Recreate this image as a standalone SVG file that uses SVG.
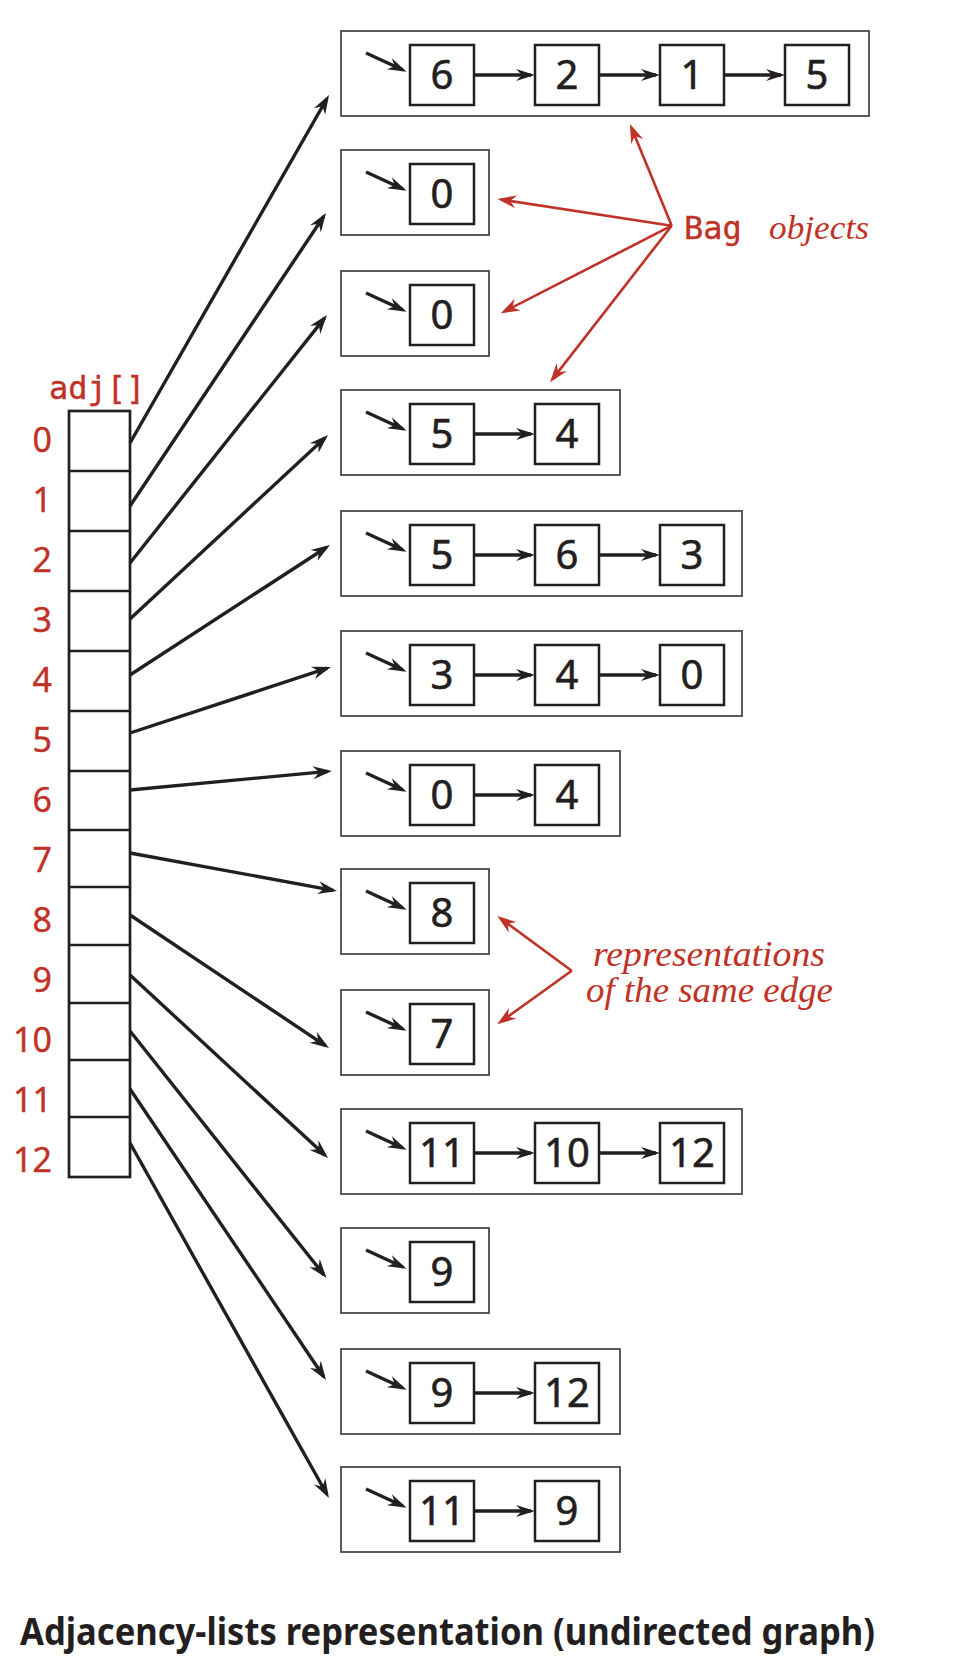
<svg xmlns="http://www.w3.org/2000/svg" width="965" height="1660" viewBox="0 0 965 1660">
<style>
.bag{fill:none;stroke:#4a4a4a;stroke-width:1.8}
.nd{fill:#fff;stroke:#231f20;stroke-width:2.5}
.num{font-family:"Noto Sans","Open Sans",sans-serif;font-size:40px;fill:#231f20;stroke:#231f20;stroke-width:0.6;text-anchor:middle}
.ptr{stroke:#231f20;stroke-width:3.4;fill:none;marker-end:url(#ahs)}
.lnk{stroke:#231f20;stroke-width:3.4;fill:none;marker-end:url(#ahs)}
.con{stroke:#231f20;stroke-width:3.4;fill:none;marker-end:url(#ah)}
.red{stroke:#c03227;stroke-width:2.6;fill:none;marker-end:url(#ahr)}
.arr{fill:#fff;stroke:#231f20;stroke-width:2.7}
.idx{font-family:"Noto Sans","Open Sans",sans-serif;font-size:34px;fill:#c03227;stroke:#c03227;stroke-width:0.4;text-anchor:end}
.mono{font-family:"DejaVu Sans Mono","Liberation Mono",monospace;font-size:32px;fill:#c03227;stroke:#c03227;stroke-width:0.4}
.ital{font-family:"Liberation Serif",serif;font-style:italic;fill:#c03227}
</style>
<defs>
<marker id="ah" viewBox="-20 -7 21 14" markerWidth="21" markerHeight="14" refX="-4" refY="0" orient="auto" markerUnits="userSpaceOnUse">
<path d="M0,0 L-19,-6.5 L-13,0 L-19,6.5 Z" fill="#231f20"/>
</marker>
<marker id="ahs" viewBox="-20 -7 21 14" markerWidth="21" markerHeight="14" refX="-4" refY="0" orient="auto" markerUnits="userSpaceOnUse">
<path d="M0,0 L-19,-6 L-13,0 L-19,6 Z" fill="#231f20"/>
</marker>
<marker id="ahr" viewBox="-20 -7 21 14" markerWidth="21" markerHeight="14" refX="-4" refY="0" orient="auto" markerUnits="userSpaceOnUse">
<path d="M0,0 L-19,-6.5 L-13,0 L-19,6.5 Z" fill="#c03227"/>
</marker>
</defs>
<rect width="965" height="1660" fill="#fff"/>

<g id="adj">
<text class="mono" x="49" y="399">adj[]</text>
<rect class="arr" x="69" y="411" width="61" height="766"/>
<path d="M69,471H130M69,531H130M69,591H130M69,651H130M69,711H130M69,771H130M69,830H130M69,887H130M69,945H130M69,1003H130M69,1060H130M69,1117H130" stroke="#231f20" stroke-width="2.7" fill="none"/>
<text class="idx" x="52" y="452">0</text>
<text class="idx" x="52" y="512">1</text>
<text class="idx" x="52" y="572">2</text>
<text class="idx" x="52" y="632">3</text>
<text class="idx" x="52" y="692">4</text>
<text class="idx" x="52" y="752">5</text>
<text class="idx" x="52" y="812">6</text>
<text class="idx" x="52" y="872">7</text>
<text class="idx" x="52" y="932">8</text>
<text class="idx" x="52" y="992">9</text>
<text class="idx" x="52" y="1052">10</text>
<text class="idx" x="52" y="1112">11</text>
<text class="idx" x="52" y="1172">12</text>
</g>

<g id="bag0" transform="translate(341,31)">
<rect class="bag" x="0" y="0" width="528" height="85"/>
<line class="ptr" x1="25" y1="22" x2="62" y2="39"/>
<rect class="nd" x="69" y="14" width="64" height="60"/><text class="num" x="101" y="58">6</text>
<line class="lnk" x1="133" y1="44" x2="190" y2="44"/>
<rect class="nd" x="194" y="14" width="64" height="60"/><text class="num" x="226" y="58">2</text>
<line class="lnk" x1="258" y1="44" x2="315" y2="44"/>
<rect class="nd" x="319" y="14" width="64" height="60"/><text class="num" x="351" y="58">1</text>
<line class="lnk" x1="383" y1="44" x2="440" y2="44"/>
<rect class="nd" x="444" y="14" width="64" height="60"/><text class="num" x="476" y="58">5</text>
</g>

<g id="bag1" transform="translate(341,150)">
<rect class="bag" x="0" y="0" width="148" height="85"/>
<line class="ptr" x1="25" y1="22" x2="62" y2="39"/>
<rect class="nd" x="69" y="14" width="64" height="60"/><text class="num" x="101" y="58">0</text>
</g>

<g id="bag2" transform="translate(341,271)">
<rect class="bag" x="0" y="0" width="148" height="85"/>
<line class="ptr" x1="25" y1="22" x2="62" y2="39"/>
<rect class="nd" x="69" y="14" width="64" height="60"/><text class="num" x="101" y="58">0</text>
</g>

<g id="bag3" transform="translate(341,390)">
<rect class="bag" x="0" y="0" width="279" height="85"/>
<line class="ptr" x1="25" y1="22" x2="62" y2="39"/>
<rect class="nd" x="69" y="14" width="64" height="60"/><text class="num" x="101" y="58">5</text>
<line class="lnk" x1="133" y1="44" x2="190" y2="44"/>
<rect class="nd" x="194" y="14" width="64" height="60"/><text class="num" x="226" y="58">4</text>
</g>

<g id="bag4" transform="translate(341,511)">
<rect class="bag" x="0" y="0" width="401" height="85"/>
<line class="ptr" x1="25" y1="22" x2="62" y2="39"/>
<rect class="nd" x="69" y="14" width="64" height="60"/><text class="num" x="101" y="58">5</text>
<line class="lnk" x1="133" y1="44" x2="190" y2="44"/>
<rect class="nd" x="194" y="14" width="64" height="60"/><text class="num" x="226" y="58">6</text>
<line class="lnk" x1="258" y1="44" x2="315" y2="44"/>
<rect class="nd" x="319" y="14" width="64" height="60"/><text class="num" x="351" y="58">3</text>
</g>

<g id="bag5" transform="translate(341,631)">
<rect class="bag" x="0" y="0" width="401" height="85"/>
<line class="ptr" x1="25" y1="22" x2="62" y2="39"/>
<rect class="nd" x="69" y="14" width="64" height="60"/><text class="num" x="101" y="58">3</text>
<line class="lnk" x1="133" y1="44" x2="190" y2="44"/>
<rect class="nd" x="194" y="14" width="64" height="60"/><text class="num" x="226" y="58">4</text>
<line class="lnk" x1="258" y1="44" x2="315" y2="44"/>
<rect class="nd" x="319" y="14" width="64" height="60"/><text class="num" x="351" y="58">0</text>
</g>

<g id="bag6" transform="translate(341,751)">
<rect class="bag" x="0" y="0" width="279" height="85"/>
<line class="ptr" x1="25" y1="22" x2="62" y2="39"/>
<rect class="nd" x="69" y="14" width="64" height="60"/><text class="num" x="101" y="58">0</text>
<line class="lnk" x1="133" y1="44" x2="190" y2="44"/>
<rect class="nd" x="194" y="14" width="64" height="60"/><text class="num" x="226" y="58">4</text>
</g>

<g id="bag7" transform="translate(341,869)">
<rect class="bag" x="0" y="0" width="148" height="85"/>
<line class="ptr" x1="25" y1="22" x2="62" y2="39"/>
<rect class="nd" x="69" y="14" width="64" height="60"/><text class="num" x="101" y="58">8</text>
</g>

<g id="bag8" transform="translate(341,990)">
<rect class="bag" x="0" y="0" width="148" height="85"/>
<line class="ptr" x1="25" y1="22" x2="62" y2="39"/>
<rect class="nd" x="69" y="14" width="64" height="60"/><text class="num" x="101" y="58">7</text>
</g>

<g id="bag9" transform="translate(341,1109)">
<rect class="bag" x="0" y="0" width="401" height="85"/>
<line class="ptr" x1="25" y1="22" x2="62" y2="39"/>
<rect class="nd" x="69" y="14" width="64" height="60"/><text class="num" x="101" y="58">11</text>
<line class="lnk" x1="133" y1="44" x2="190" y2="44"/>
<rect class="nd" x="194" y="14" width="64" height="60"/><text class="num" x="226" y="58">10</text>
<line class="lnk" x1="258" y1="44" x2="315" y2="44"/>
<rect class="nd" x="319" y="14" width="64" height="60"/><text class="num" x="351" y="58">12</text>
</g>

<g id="bag10" transform="translate(341,1228)">
<rect class="bag" x="0" y="0" width="148" height="85"/>
<line class="ptr" x1="25" y1="22" x2="62" y2="39"/>
<rect class="nd" x="69" y="14" width="64" height="60"/><text class="num" x="101" y="58">9</text>
</g>

<g id="bag11" transform="translate(341,1349)">
<rect class="bag" x="0" y="0" width="279" height="85"/>
<line class="ptr" x1="25" y1="22" x2="62" y2="39"/>
<rect class="nd" x="69" y="14" width="64" height="60"/><text class="num" x="101" y="58">9</text>
<line class="lnk" x1="133" y1="44" x2="190" y2="44"/>
<rect class="nd" x="194" y="14" width="64" height="60"/><text class="num" x="226" y="58">12</text>
</g>

<g id="bag12" transform="translate(341,1467)">
<rect class="bag" x="0" y="0" width="279" height="85"/>
<line class="ptr" x1="25" y1="22" x2="62" y2="39"/>
<rect class="nd" x="69" y="14" width="64" height="60"/><text class="num" x="101" y="58">11</text>
<line class="lnk" x1="133" y1="44" x2="190" y2="44"/>
<rect class="nd" x="194" y="14" width="64" height="60"/><text class="num" x="226" y="58">9</text>
</g>

<g id="connectors">
<line class="con" x1="130" y1="443" x2="327" y2="98.5"/>
<line class="con" x1="130" y1="506" x2="323.8" y2="216.3"/>
<line class="con" x1="130" y1="563" x2="324.5" y2="318.1"/>
<line class="con" x1="130" y1="619" x2="325.1" y2="437.7"/>
<line class="con" x1="130" y1="675" x2="326.6" y2="547.2"/>
<line class="con" x1="130" y1="733" x2="327.2" y2="668.2"/>
<line class="con" x1="130" y1="790" x2="328" y2="771.4"/>
<line class="con" x1="130" y1="853" x2="333.1" y2="890.3"/>
<line class="con" x1="130" y1="915" x2="325.7" y2="1045.8"/>
<line class="con" x1="130" y1="975" x2="325.1" y2="1155.3"/>
<line class="con" x1="130" y1="1031" x2="324" y2="1274.9"/>
<line class="con" x1="130" y1="1089" x2="323.8" y2="1376.7"/>
<line class="con" x1="130" y1="1143" x2="327" y2="1494.5"/>
</g>

<g id="bag-objects-label">
<line class="red" x1="671.7" y1="225.7" x2="631.5" y2="127.7"/>
<line class="red" x1="671.7" y1="225.7" x2="501.3" y2="199.6"/>
<line class="red" x1="671.7" y1="225.7" x2="504.3" y2="311.5"/>
<line class="red" x1="671.7" y1="225.7" x2="552.5" y2="379.1"/>
<text class="mono" x="684" y="239">Bag</text>
<text class="ital" x="769" y="239" font-size="33" textLength="100" lengthAdjust="spacingAndGlyphs">objects</text>
</g>

<g id="same-edge-label">
<line class="red" x1="571.7" y1="970.7" x2="500.5" y2="918.4"/>
<line class="red" x1="571.7" y1="970.7" x2="500.5" y2="1022"/>
<text class="ital" x="593" y="966" font-size="35" textLength="232" lengthAdjust="spacingAndGlyphs">representations</text>
<text class="ital" x="586" y="1002" font-size="35" textLength="247" lengthAdjust="spacingAndGlyphs">of the same edge</text>
</g>

<text id="title" x="20" y="1645" font-family="'Noto Sans','Open Sans',sans-serif" font-weight="bold" font-size="37" fill="#231f20" textLength="855" lengthAdjust="spacingAndGlyphs">Adjacency-lists representation (undirected graph)</text>
</svg>
